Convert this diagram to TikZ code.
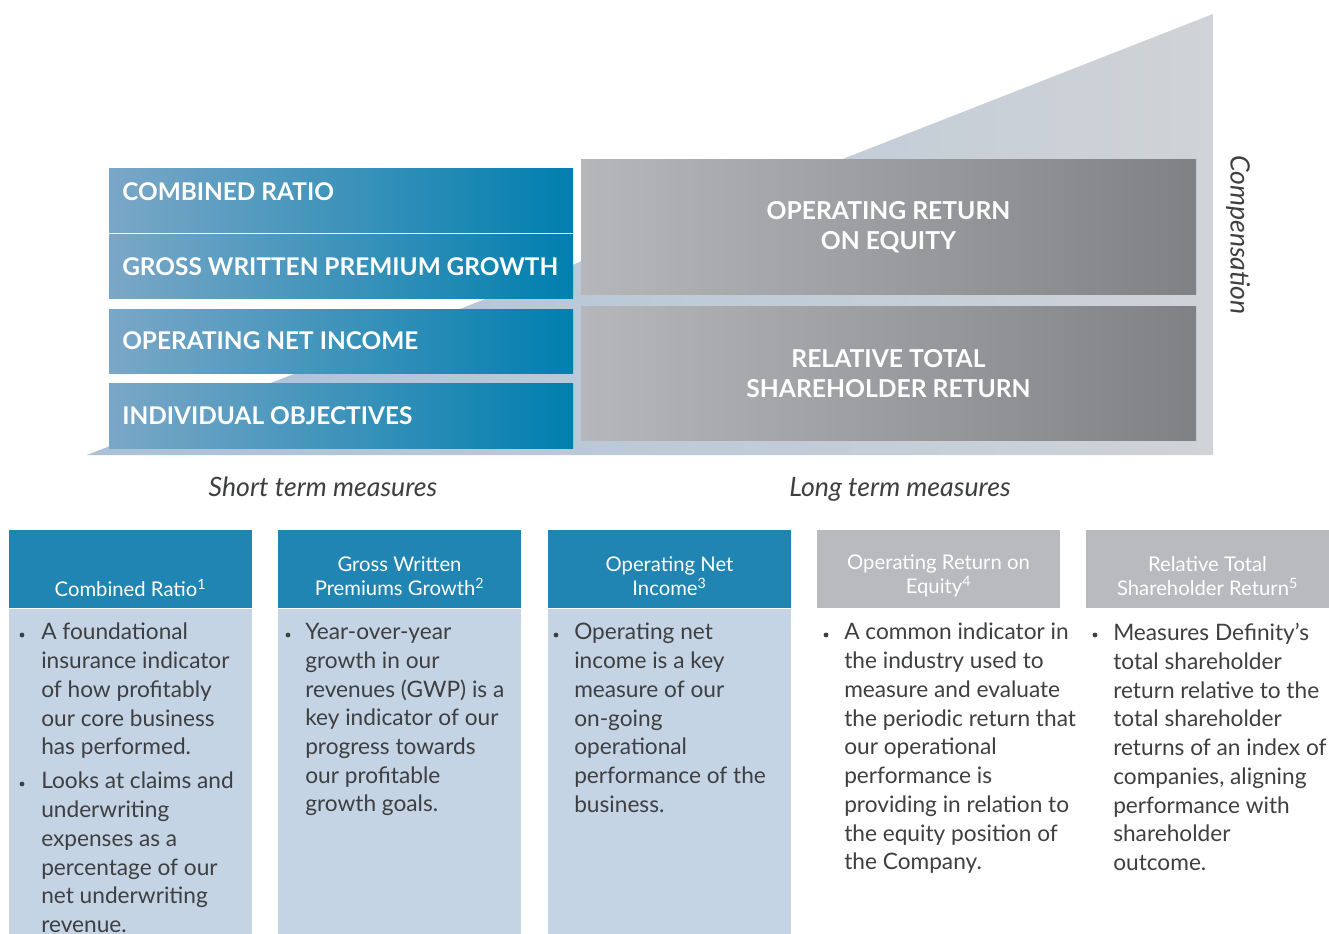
\documentclass[tikz,border=0pt]{standalone}
\usepackage{fontspec}
\setmainfont{Lato}
\usetikzlibrary{positioning}

\definecolor{barleft}{HTML}{7BA7C7}
\definecolor{barright}{HTML}{007FAE}
\definecolor{greyleft}{HTML}{B5B7BA}
\definecolor{greyright}{HTML}{7F8184}
\definecolor{wedgeleft}{HTML}{A9C1D9}
\definecolor{wedgeright}{HTML}{D0D3D7}
\definecolor{headblue}{HTML}{2085B3}
\definecolor{headgrey}{HTML}{B9BABD}
\definecolor{bodyblue}{HTML}{C4D4E5}
\definecolor{textgrey}{HTML}{3E3F41}

\begin{document}
\begin{tikzpicture}[
    x=0.75pt, y=-0.75pt,
    bluebar/.style={rectangle, inner sep=0, minimum width=348pt, minimum height=48pt, left color=barleft, right color=barright},
    greybar/.style={rectangle, inner sep=0, minimum width=461.25pt, minimum height=101pt, left color=greyleft, right color=greyright},
    bartitle/.style={anchor=west, inner sep=0, text=white, font=\fontsize{18.3}{22}\selectfont\bfseries},
    greytitle/.style={align=center, inner sep=0, text=white, font=\fontsize{18.5}{22.5}\selectfont\bfseries},
    measure/.style={inner sep=0, text=textgrey, font=\fontsize{20}{22}\selectfont\itshape},
    colhead/.style={rectangle, anchor=north west, inner sep=0, minimum width=182.25pt, minimum height=58.5pt},
    colbody/.style={rectangle, anchor=north west, inner sep=0, minimum width=182.25pt, minimum height=250pt, fill=bodyblue},
    headtext/.style={align=center, inner sep=0, text=white, font=\fontsize{15.2}{18}\selectfont},
    bodytext/.style={anchor=north west, align=left, inner sep=0, text=textgrey, font=\fontsize{17}{21.56}\selectfont, execute at begin node={\strut}},
    dot/.style={circle, fill=textgrey, inner sep=0, minimum size=3.6pt}
]
\useasboundingbox (0,0) rectangle (1329,934);

% rising wedge behind the bars
\shade[left color=wedgeleft, right color=wedgeright] (87,455) -- (1213,14) -- (1213,455) -- cycle;

% short term bars
\node[bluebar] (cr) at (341,201) {};
\node[bluebar] (gwp) at (341,267) {};
\node[bluebar] (oni) at (341,342) {};
\node[bluebar] (indiv) at (341,416) {};
\node[bartitle] (crt) at (122,192) {COMBINED RATIO};
\node[bartitle] (gwpt) at (122,267) {GROSS WRITTEN PREMIUM GROWTH};
\node[bartitle] (onit) at (122,341) {OPERATING NET INCOME};
\node[bartitle] (indivt) at (122,416) {INDIVIDUAL OBJECTIVES};

% long term bars
\node[greybar] (roe) at (888.5,227) {};
\node[greybar] (tsr) at (888.5,373.5) {};
\node[greytitle] (roet) at (roe) {OPERATING RETURN\\ON EQUITY};
\node[greytitle] (tsrt) at (tsr) {RELATIVE TOTAL\\SHAREHOLDER RETURN};

\node[measure, rotate=-90] (comp) at (1238,235) {Compensation};
\node[measure, anchor=base] (short) at (323,496) {Short term measures};
\node[measure, anchor=base] (long) at (900,496) {Long term measures};

% column headers
\node[colhead, fill=headblue] (h1) at (9,530) {};
\node[colhead, fill=headblue] (h2) at (278,530) {};
\node[colhead, fill=headblue] (h3) at (548,530) {};
\node[colhead, fill=headgrey] (h4) at (817,530) {};
\node[colhead, fill=headgrey] (h5) at (1086,530) {};
\node[colbody] (b1) at (h1.south west) {};
\node[colbody] (b2) at (h2.south west) {};
\node[colbody] (b3) at (h3.south west) {};

\node[headtext] (h1t) at (130.5,588) {Combined Ratio\textsuperscript{1}};
\node[headtext] (h2t) at (399.5,576) {Gross Written\\Premiums Growth\textsuperscript{2}};
\node[headtext] (h3t) at (669.5,576) {Operating Net\\Income\textsuperscript{3}};
\node[headtext] (h4t) at (938.5,576) {Operating Return on\\Equity\textsuperscript{4}};
\node[headtext] (h5t) at (1207.5,576) {Relative Total\\Shareholder Return\textsuperscript{5}};

% bullets
\node[dot] (d1a) at (22,635) {};
\node[dot] (d1b) at (22,784) {};
\node[dot] (d2) at (288,635) {};
\node[dot] (d3) at (556,635) {};
\node[dot] (d4) at (826,635) {};
\node[dot] (d5) at (1095,635) {};

% body texts, first baseline at 643 (strut top 20px above)
\node[bodytext] (t1a) at (41,623) {A foundational\\insurance indicator\\of how profitably\\our core business\\has performed.};
\node[bodytext] (t1b) at (41,772) {Looks at claims and\\underwriting\\expenses as a\\percentage of our\\net underwriting\\revenue.};
\node[bodytext] (t2) at (305,623) {Year-over-year\\growth in our\\revenues (GWP) is a\\key indicator of our\\progress towards\\our profitable\\growth goals.};
\node[bodytext] (t3) at (574,623) {Operating net\\income is a key\\measure of our\\on-going\\operational\\performance of the\\business.};
\node[bodytext] (t4) at (844,623) {A common indicator in\\the industry used to\\measure and evaluate\\the periodic return that\\our operational\\performance is\\providing in relation to\\the equity position of\\the Company.};
\node[bodytext] (t5) at (1113,623) {Measures Definity’s\\total shareholder\\return relative to the\\total shareholder\\returns of an index of\\companies, aligning\\performance with\\shareholder\\outcome.};

\end{tikzpicture}
\end{document}
